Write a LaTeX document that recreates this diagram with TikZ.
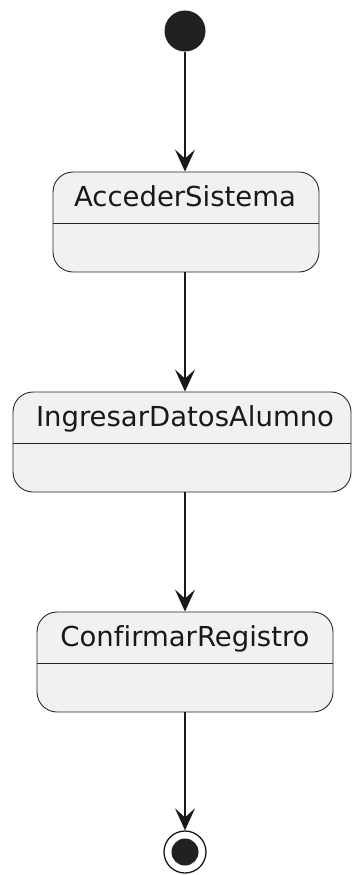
\documentclass[tikz,border=0pt]{standalone}
\usepackage{fontspec}
\setmainfont[Ligatures=NoCommon]{DejaVu Sans}
\usetikzlibrary{arrows.meta,positioning}

\begin{document}
\begin{tikzpicture}[x=1pt,y=-1pt,>={Stealth[length=22pt,width=20pt,inset=9pt]},
  startdot/.style={circle,fill=black!87,minimum size=41pt,inner sep=0pt},
  statebox/.style={draw=black!85,line width=.9pt,fill=black!5.5,rounded corners=20pt,minimum height=100pt,inner sep=0pt},
  statename/.style={anchor=base,font=\fontsize{27.5}{30}\selectfont,text=black!90,inner sep=0pt},
  flow/.style={draw=black!90,line width=1.4pt,->}]
\useasboundingbox (0,0) rectangle (352,875);
\node[startdot] (start) at (185,31) {};
\node[statebox,minimum width=266pt] (s1) at (186,222) {};
\node[statebox,minimum width=338pt] (s2) at (182,442) {};
\node[statebox,minimum width=296pt] (s3) at (185,662) {};
\node[statename] (n1) at (185,206.7) {AccederSistema};
\node[statename] (n2) at (185,426.7) {IngresarDatosAlumno};
\node[statename] (n3) at (185,646.7) {ConfirmarRegistro};
% compartment lines
\foreach \s in {s1,s2,s3}
  \draw[black!85,line width=.9pt] ([yshift=-52pt]\s.north west) -- ([yshift=-52pt]\s.north east);
\node[circle,draw=black!90,line width=1.3pt,fill=white,minimum size=42pt,inner sep=0pt] (stop) at (185,852) {};
\node[circle,fill=black!87,minimum size=27pt,inner sep=0pt] (stopdot) at (stop) {};
\draw[flow] (start.south) -- (start.south |- s1.north);
\draw[flow] (n1 |- s1.south) -- (n1 |- s2.north);
\draw[flow] (n2 |- s2.south) -- (n2 |- s3.north);
\draw[flow] (n3 |- s3.south) -- (stop.north);
\end{tikzpicture}
\end{document}
